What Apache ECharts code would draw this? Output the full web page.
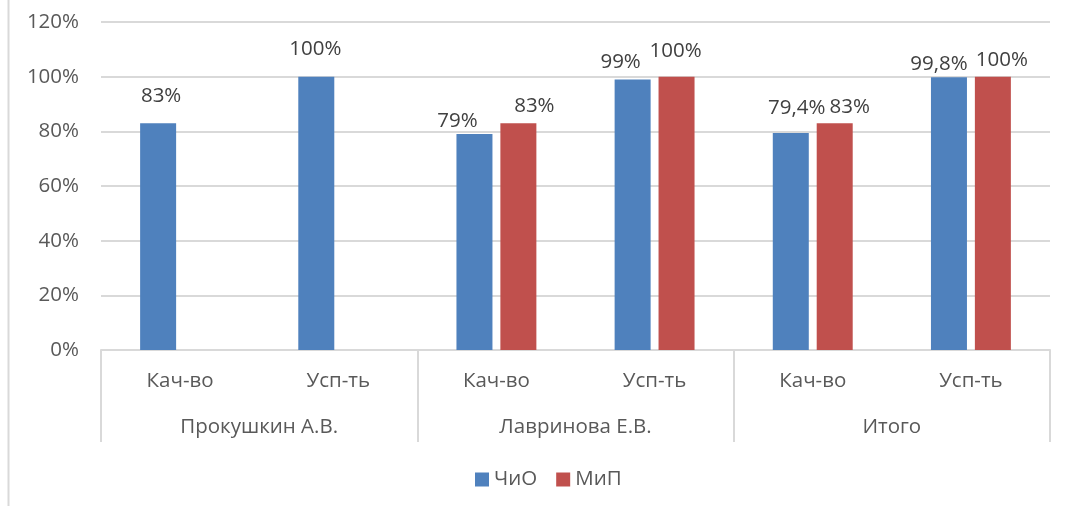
<!DOCTYPE html>
<html>
<head>
<meta charset="utf-8">
<script src="https://cdn.jsdelivr.net/npm/echarts@6/dist/echarts.min.js"></script>
<style>html,body{margin:0;padding:0;background:#fff}#c{width:1065px;height:509px}</style>
</head>
<body>
<div id="c"></div>
<script>
var subCategories = ['Кач-во', 'Усп-ть', 'Кач-во', 'Усп-ть', 'Кач-во', 'Усп-ть'];
var groups = ['Прокушкин А.В.', 'Лавринова Е.В.', 'Итого'];
var seriesNames = ['ЧиО', 'МиП'];
var chioValues = [83, 100, 79, 99, 79.4, 99.8];
var mipValues = [null, null, 83, 100, 83, 100];
var yTicks = [0, 20, 40, 60, 80, 100, 120];

// label nudges (layout only), per series / data index
var labelDx = [[3, -1, -17, -12, 6, -10], [0, 0, 16, -1, 15, 9]];
var labelDy = [[-11, -12, 3, -2, -9, 2], [0, 0, -1, -10, 0, -1]];

var FONT = 'Open Sans';
var FS = 20.5;
var chart = echarts.init(document.getElementById('c'), null, {renderer: 'canvas'});
function fmt(p) { return String(p.value).replace('.', ',') + '%'; }
function layout(p) {
  return {dx: labelDx[p.seriesIndex][p.dataIndex], dy: labelDy[p.seriesIndex][p.dataIndex]};
}
chart.setOption({
  animation: false,
  textStyle: {fontFamily: FONT},
  grid: {left: 101, right: 15, top: 22, bottom: 159},
  legend: {
    bottom: 14, left: 470, itemWidth: 14, itemHeight: 14, itemGap: 19,
    icon: 'rect',
    textStyle: {fontSize: FS, color: '#595959', fontFamily: FONT},
    data: seriesNames
  },
  xAxis: [{
    type: 'category', data: subCategories, position: 'bottom',
    axisLine: {lineStyle: {color: '#d9d9d9', width: 2}},
    axisTick: {show: false},
    axisLabel: {fontSize: FS, color: '#595959', margin: 21, fontFamily: FONT}
  }, {
    type: 'category', data: groups, position: 'bottom', gridIndex: 0,
    axisLine: {show: false},
    axisTick: {show: true, length: 92, interval: 0, lineStyle: {color: '#d9d9d9', width: 2}},
    axisLabel: {fontSize: FS, color: '#595959', margin: 67, fontFamily: FONT, interval: 0}
  }],
  yAxis: {
    type: 'value', min: yTicks[0], max: yTicks[yTicks.length - 1], interval: yTicks[1] - yTicks[0],
    axisLine: {show: false}, axisTick: {show: false},
    splitLine: {lineStyle: {color: '#d9d9d9', width: 2}},
    axisLabel: {fontSize: FS, color: '#595959', margin: 22, fontFamily: FONT,
      formatter: function (v) { return v + '%'; }}
  },
  series: [{
    name: seriesNames[0], type: 'bar', data: chioValues, xAxisIndex: 0,
    barWidth: 36, barGap: '22%',
    itemStyle: {color: '#4F81BD'},
    label: {show: true, position: 'top', distance: 5, fontSize: FS, color: '#404040', fontFamily: FONT, formatter: fmt},
    labelLayout: layout
  }, {
    name: seriesNames[1], type: 'bar', data: mipValues, xAxisIndex: 0,
    barWidth: 36, barGap: '22%',
    itemStyle: {color: '#C0504D'},
    label: {show: true, position: 'top', distance: 5, fontSize: FS, color: '#404040', fontFamily: FONT, formatter: fmt},
    labelLayout: layout
  }],
  graphic: [{
    type: 'line', shape: {x1: 8.5, y1: 0, x2: 8.5, y2: 506},
    style: {stroke: '#d9d9d9', lineWidth: 2}
  }]
});
</script>
</body>
</html>
